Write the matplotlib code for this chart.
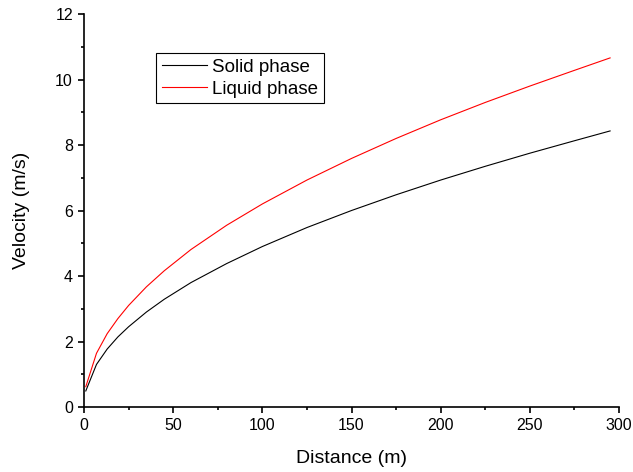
import matplotlib
matplotlib.use("Agg")
import matplotlib.pyplot as plt
from matplotlib.ticker import MultipleLocator

plt.rcParams["font.family"] = ["Liberation Sans", "DejaVu Sans"]

# values
distance = [1, 7, 13, 19, 25, 35, 45, 60, 80, 100, 125, 150, 175, 200, 225, 250, 275, 295]
solid_velocity = [0.49, 1.30, 1.77, 2.14, 2.45, 2.90, 3.29, 3.80, 4.38, 4.90,
                  5.48, 6.00, 6.48, 6.93, 7.35, 7.75, 8.13, 8.43]
liquid_velocity = [0.62, 1.64, 2.24, 2.70, 3.10, 3.67, 4.16, 4.81, 5.55, 6.20,
                   6.93, 7.59, 8.20, 8.77, 9.30, 9.80, 10.28, 10.66]

fig = plt.figure(figsize=(6.33, 4.72), dpi=100)
ax = fig.add_axes([0.1327, 0.1377, 0.8452, 0.8326])

ax.plot(distance, solid_velocity, color="black", lw=0.8, label="Solid phase")
ax.plot(distance, liquid_velocity, color="red", lw=0.8, label="Liquid phase")

ax.set_xlim(0, 300)
ax.set_ylim(0, 12)
ax.xaxis.set_major_locator(MultipleLocator(50))
ax.xaxis.set_minor_locator(MultipleLocator(25))
ax.yaxis.set_major_locator(MultipleLocator(2))
ax.yaxis.set_minor_locator(MultipleLocator(1))

for side in ["top", "right"]:
    ax.spines[side].set_visible(False)
for side in ["left", "bottom"]:
    ax.spines[side].set_linewidth(1.2)

ax.tick_params(which="major", direction="out", length=4.5, width=1.2, labelsize=11.5)
ax.tick_params(which="minor", direction="out", length=2.5, width=1.2)

ax.set_xlabel("Distance (m)", fontsize=14, labelpad=12)
ax.set_ylabel("Velocity (m/s)", fontsize=14, labelpad=18)

leg = ax.legend(loc="upper left", bbox_to_anchor=(0.1346, 0.9008), borderaxespad=0,
                fontsize=13.5, handlelength=2.4, handletextpad=0.3,
                labelspacing=0.26, borderpad=0.3, fancybox=False, framealpha=1)
leg.get_frame().set_edgecolor("black")
leg.get_frame().set_linewidth(0.8)

fig.savefig("out.png", dpi=100)
